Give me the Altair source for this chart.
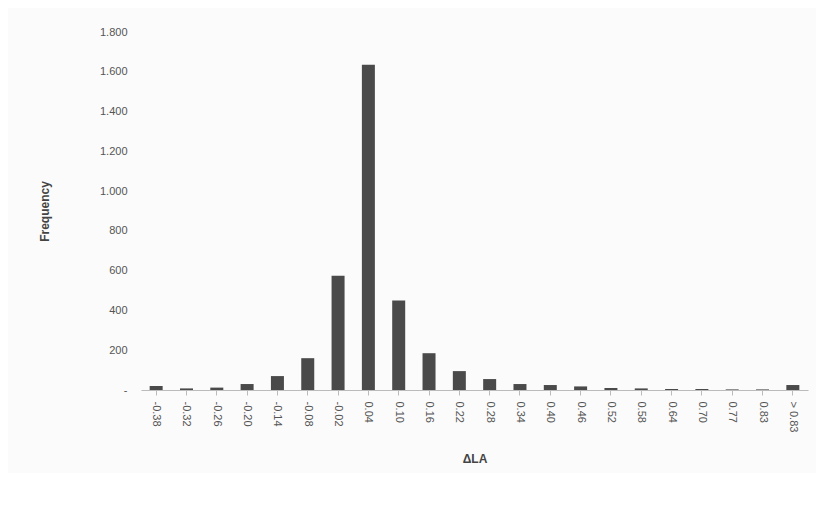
import altair as alt
import pandas as pd

bins = ['-0.38', '-0.32', '-0.26', '-0.20', '-0.14', '-0.08', '-0.02', '0.04', '0.10',
        '0.16', '0.22', '0.28', '0.34', '0.40', '0.46', '0.52', '0.58', '0.64', '0.70',
        '0.77', '0.83', '> 0.83']
freq = [20, 8, 12, 30, 70, 160, 575, 1635, 450, 185, 95, 55, 30, 25, 18, 10, 8, 5, 5, 3, 3, 25]

df = pd.DataFrame({'bin': bins, 'freq': freq})

chart = alt.Chart(df).mark_bar(color='#4a4a4a', size=13).encode(
    x=alt.X('bin:N', sort=bins, title='ΔLA',
            axis=alt.Axis(labelAngle=90, labelFontSize=11, titleFontSize=12, titleFontWeight='bold',
                          labelColor='#555', titleColor='#444', domainColor='#bbb', tickColor='#bbb',
                          titlePadding=22, labelPadding=6)),
    y=alt.Y('freq:Q', title='Frequency', scale=alt.Scale(domain=[0, 1800]),
            axis=alt.Axis(values=list(range(0, 1801, 200)), grid=False, domain=False, ticks=False,
                          labelExpr="datum.value == 0 ? '-' : replace(format(datum.value, ','), ',', '.')",
                          labelFontSize=11, titleFontSize=12, titleFontWeight='bold',
                          labelColor='#555', titleColor='#444', labelPadding=14, titlePadding=48)),
).properties(
    width=667, height=358,
    background='#fbfbfb',
    padding={'left': 30, 'top': 18, 'right': 8, 'bottom': 8},
).configure_view(stroke=None).configure_axis(labelFont='Liberation Sans', titleFont='Liberation Sans')

chart.save("out.html", embed_options={"renderer": "svg", "actions": False})
